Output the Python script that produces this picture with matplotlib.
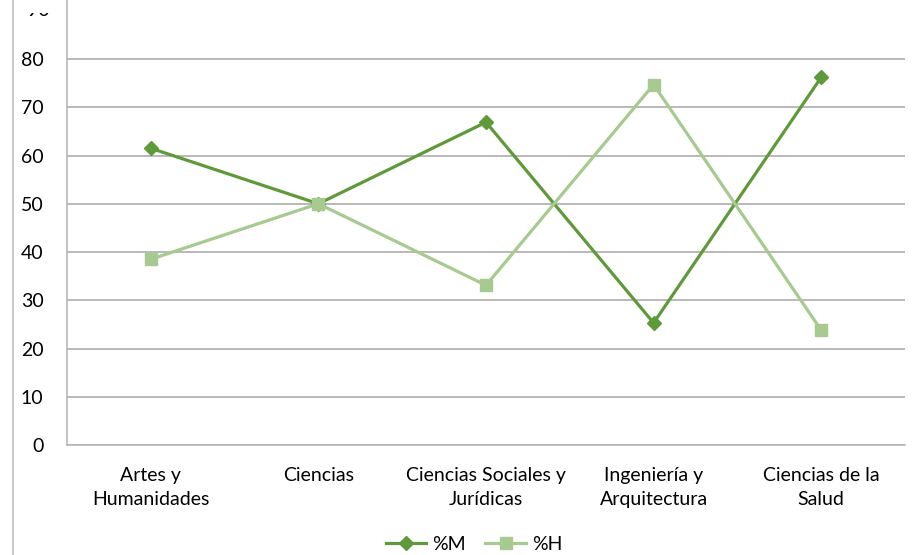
import matplotlib.pyplot as plt
from matplotlib.lines import Line2D
from matplotlib.transforms import Bbox, TransformedBbox, blended_transform_factory

# Datos
categorias = ['Artes y\nHumanidades', 'Ciencias', 'Ciencias Sociales y\nJurídicas',
              'Ingeniería y\nArquitectura', 'Ciencias de la\nSalud']
pct_m = [61.5, 50.0, 66.9, 25.3, 76.2]
pct_h = [38.5, 50.0, 33.1, 74.7, 23.8]
yticks = [0, 10, 20, 30, 40, 50, 60, 70, 80]

plt.rcParams['font.family'] = ['Lato', 'DejaVu Sans']

W, H = 917, 555
fig = plt.figure(figsize=(W / 100, H / 100), dpi=100)
ax = fig.add_axes([67 / W, 1 - 445 / H, (905 - 67) / W, 445 / H])

x = list(range(len(categorias)))
ax.plot(x, pct_m, color='#5f9a3a', lw=2.3, marker='D', ms=7, label='%M', zorder=3)
ax.plot(x, pct_h, color='#a6ca8f', lw=2.3, marker='s', ms=8.7, label='%H', zorder=3)

ax.set_xlim(-0.5, len(categorias) - 0.5)
ax.set_ylim(0, 90 + 10.75 / 4.825)
ax.set_yticks(yticks)
ax.set_xticks(x)
ax.set_xticklabels(categorias, fontsize=14, linespacing=1.45)
ax.tick_params(axis='y', length=0, pad=17, labelsize=14)
ax.tick_params(axis='x', length=0, pad=16)
ax.grid(axis='y', color='#a6a6a6', lw=1.1)
ax.set_axisbelow(True)
for s in ['top', 'right']:
    ax.spines[s].set_visible(False)
ax.spines['left'].set_color('#b3b3b3')
ax.spines['bottom'].set_color('#b3b3b3')
ax.spines['left'].set_linewidth(1.1)
ax.spines['bottom'].set_linewidth(1.1)

# etiqueta 90 recortada por arriba
trans = blended_transform_factory(ax.transAxes, ax.transData)
t90 = ax.text(-17 / (905 - 67), 90, '90', transform=trans, ha='right', va='center',
              fontsize=14, clip_on=True)
t90.set_clip_box(TransformedBbox(Bbox([[0, 0], [1, 1 - 13 / H]]), fig.transFigure))

# linea vertical a la izquierda
fig.add_artist(Line2D([13 / W, 13 / W], [0, 1], color='#bfbfbf', lw=1.2))

fig.legend(loc='center', bbox_to_anchor=(474 / W, 1 - 544 / H), ncol=2, frameon=False,
           fontsize=14, handlelength=2.1, handletextpad=0.3, columnspacing=1.0)

fig.savefig('out.png', dpi=100)
